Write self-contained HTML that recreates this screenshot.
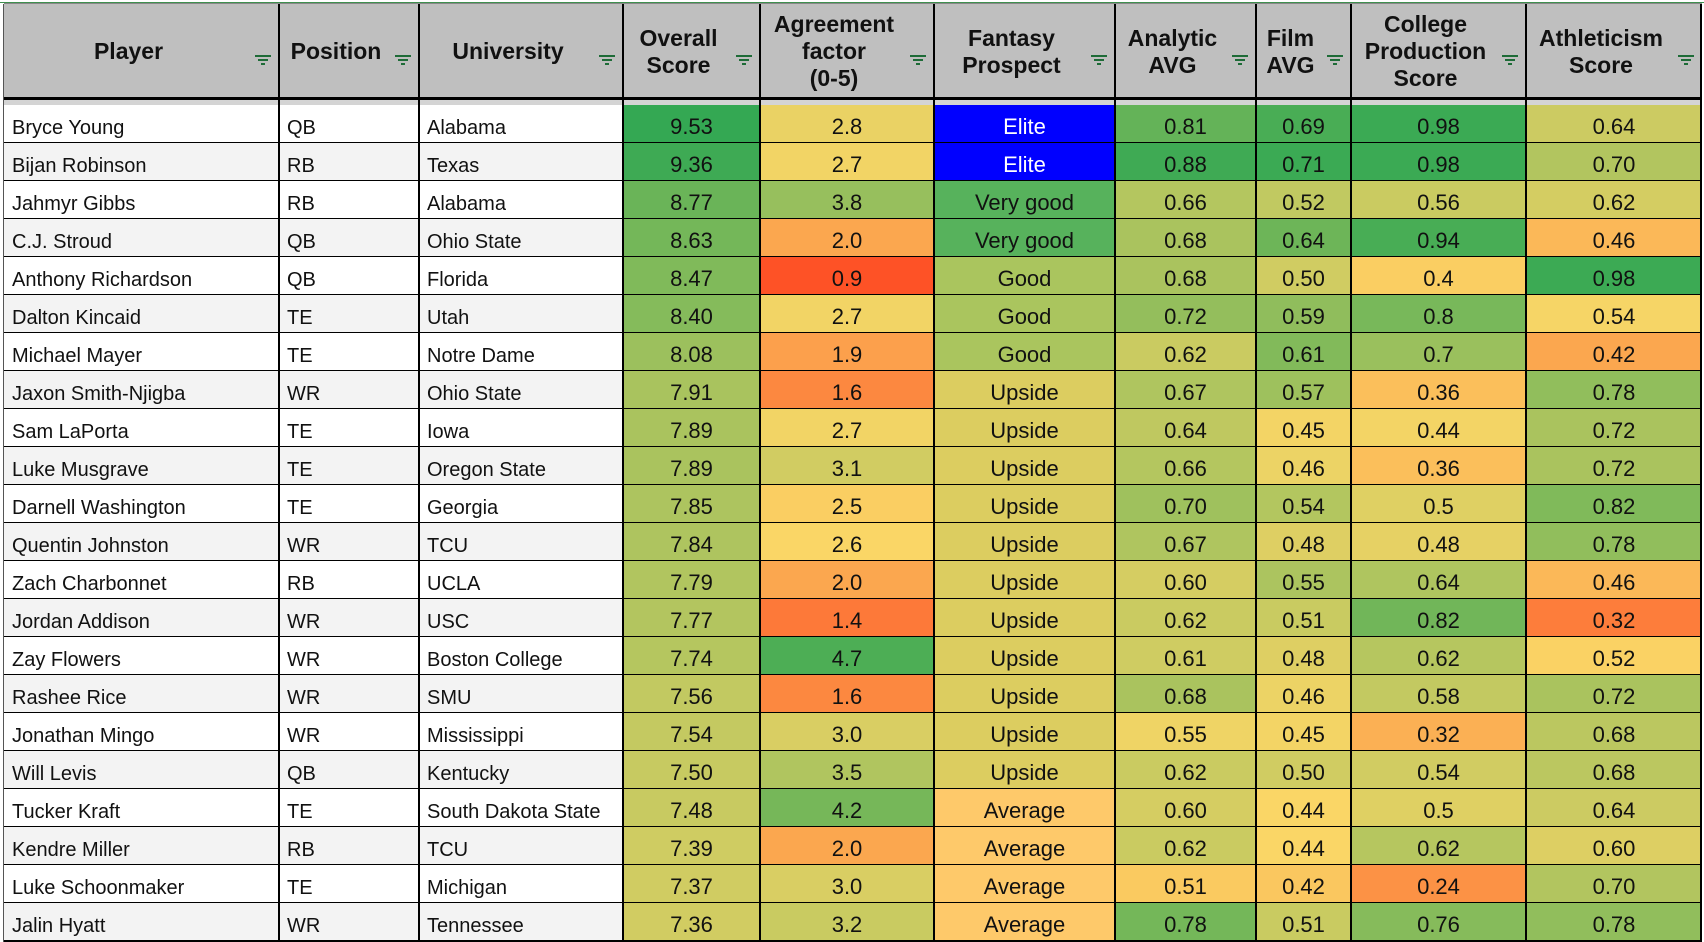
<!DOCTYPE html>
<html><head><meta charset="utf-8"><style>
body{margin:0;width:1704px;height:942px;overflow:hidden;background:#fff;font-family:"Liberation Sans",Arial,sans-serif;position:relative}
.c{position:absolute;box-sizing:border-box;display:flex;align-items:flex-end;padding-bottom:3px;font-size:20px;color:#111;overflow:hidden;white-space:nowrap}
.h{position:absolute;box-sizing:border-box;background:#bfbfbf;display:flex;align-items:center;justify-content:center;font-weight:bold;font-size:23px;line-height:27px;text-align:center;color:#111;padding-right:26px}
.f{position:absolute;right:6px;top:42px;width:20px;height:14px}
.vl{position:absolute;background:#000;width:2px}
.hl{position:absolute;background:#000;height:2px;left:4px;width:1698px}
</style></head><body>
<div id="t"></div>
<script>
const players=["Bryce Young","Bijan Robinson","Jahmyr Gibbs","C.J. Stroud","Anthony Richardson","Dalton Kincaid","Michael Mayer","Jaxon Smith-Njigba","Sam LaPorta","Luke Musgrave","Darnell Washington","Quentin Johnston","Zach Charbonnet","Jordan Addison","Zay Flowers","Rashee Rice","Jonathan Mingo","Will Levis","Tucker Kraft","Kendre Miller","Luke Schoonmaker","Jalin Hyatt"];
const positions=["QB","RB","RB","QB","QB","TE","TE","WR","TE","TE","TE","WR","RB","WR","WR","WR","WR","QB","TE","RB","TE","WR"];
const universities=["Alabama","Texas","Alabama","Ohio State","Florida","Utah","Notre Dame","Ohio State","Iowa","Oregon State","Georgia","TCU","UCLA","USC","Boston College","SMU","Mississippi","Kentucky","South Dakota State","TCU"," Michigan","Tennessee"];
const overall=["9.53","9.36","8.77","8.63","8.47","8.40","8.08","7.91","7.89","7.89","7.85","7.84","7.79","7.77","7.74","7.56","7.54","7.50","7.48","7.39","7.37","7.36"];
const agreement=["2.8","2.7","3.8","2.0","0.9","2.7","1.9","1.6","2.7","3.1","2.5","2.6","2.0","1.4","4.7","1.6","3.0","3.5","4.2","2.0","3.0","3.2"];
const fantasy=["Elite","Elite","Very good","Very good","Good","Good","Good","Upside","Upside","Upside","Upside","Upside","Upside","Upside","Upside","Upside","Upside","Upside","Average","Average","Average","Average"];
const analytic=["0.81","0.88","0.66","0.68","0.68","0.72","0.62","0.67","0.64","0.66","0.70","0.67","0.60","0.62","0.61","0.68","0.55","0.62","0.60","0.62","0.51","0.78"];
const film=["0.69","0.71","0.52","0.64","0.50","0.59","0.61","0.57","0.45","0.46","0.54","0.48","0.55","0.51","0.48","0.46","0.45","0.50","0.44","0.44","0.42","0.51"];
const college=["0.98","0.98","0.56","0.94","0.4","0.8","0.7","0.36","0.44","0.36","0.5","0.48","0.64","0.82","0.62","0.58","0.32","0.54","0.5","0.62","0.24","0.76"];
const athletic=["0.64","0.70","0.62","0.46","0.98","0.54","0.42","0.78","0.72","0.72","0.82","0.78","0.46","0.32","0.52","0.72","0.68","0.68","0.64","0.60","0.70","0.78"];
const headers=["Player","Position","University","Overall<br>Score","Agreement<br>factor<br>(0-5)","Fantasy<br>Prospect","Analytic<br>AVG","Film<br>AVG","College<br>Production<br>Score","Athleticism<br>Score"];
const headerNames=["player","position","university","overall-score","agreement-factor","fantasy-prospect","analytic-avg","film-avg","college-production-score","athleticism-score"];
const edges=[4,279,419,623,760,934,1115,1256,1351,1526,1702];
const fantasyColors={"Elite":"#0000ff","Very good":"#57b25c","Good":"#aac55e","Upside":"#dccd60","Average":"#fec96a"};
const scales=[null,null,null,[5,6.8,9.5],[0.8,2.6,5],null,[0.3,0.53,0.9],[0.25,0.44,0.72],[0.05,0.42,1.0],[0.2,0.53,1.0]];
const R=[254,74,34],Y=[250,214,102],G=[52,168,83];
function mix(a,b,t){t=Math.max(0,Math.min(1,t));return 'rgb('+a.map((v,i)=>Math.round(v+(b[i]-v)*t)).join(',')+')';}
function scaleColor(v,s){return v<=s[1]?mix(R,Y,(v-s[0])/(s[1]-s[0])):mix(Y,G,(v-s[1])/(s[2]-s[1]));}
const t=document.getElementById('t');
const top0=105,rowH=38,headTop=4,headBot=99;
const filterSvg='<svg viewBox="0 0 20 14"><rect x="2" y="2" width="16" height="2" fill="#1e6b37"/><rect x="5" y="6" width="10" height="2" fill="#1e6b37"/><rect x="8" y="10" width="4" height="2" fill="#1e6b37"/></svg>';
const gl=document.createElement('div');gl.style.cssText='position:absolute;left:0;top:2px;width:1704px;height:1px;background:#3f8f4f';


t.appendChild(gl);
headers.forEach((h,i)=>{
 const d=document.createElement('div');d.className='h';
 d.style.left=edges[i]+'px';d.style.width=(edges[i+1]-edges[i])+'px';d.style.top=headTop+'px';d.style.height=(headBot-headTop)+'px';
 d.innerHTML='<span>'+h+'</span>';
 
 
 const f=document.createElement('div');f.className='f';f.innerHTML=filterSvg;
 
 
 d.appendChild(f);t.appendChild(d);
});
const cols=[players,positions,universities,overall,agreement,fantasy,analytic,film,college,athletic];
players.forEach((p,r)=>{
 const y=top0+r*rowH;
 cols.forEach((col,i)=>{
  const d=document.createElement('div');d.className='c';
  d.style.left=edges[i]+'px';d.style.width=(edges[i+1]-edges[i])+'px';d.style.top=y+'px';d.style.height=rowH+'px';
  d.textContent=col[r];
  if(i<3){d.style.background=r%2?'#f3f3f3':'#fff';d.style.paddingLeft='8px';}
  else{d.style.justifyContent='center';}
  if(i===5){d.style.background=fantasyColors[col[r]];d.style.fontSize='22px';if(col[r]==='Elite')d.style.color='#fff';}
  else if(scales[i]){d.style.background=scaleColor(parseFloat(col[r]),scales[i]);d.style.fontSize='22px';}
  
  
  t.appendChild(d);
 });
 const l=document.createElement('div');l.className='hl';l.style.top=(y+rowH-1)+'px';
 
 
 t.appendChild(l);
});
const gap=document.createElement('div');gap.style.cssText='position:absolute;left:4px;top:100px;width:1698px;height:5px;background:#d4d4d4';


t.appendChild(gap);
const hb=document.createElement('div');hb.className='hl';hb.style.top='97px';hb.style.height='3px';


t.appendChild(hb);
const ht=document.createElement('div');ht.className='hl';ht.style.top='3px';ht.style.height='1px';ht.style.background='#888';


t.appendChild(ht);
edges.forEach((x,i)=>{
 const v=document.createElement('div');v.className='vl';v.style.left=(i===edges.length-1?x-2:x-1)+'px';v.style.top='4px';v.style.height='938px';
 if(i===0){v.style.background='#555';v.style.width='1px';}
 
 
 t.appendChild(v);
});
</script>
</body></html>
